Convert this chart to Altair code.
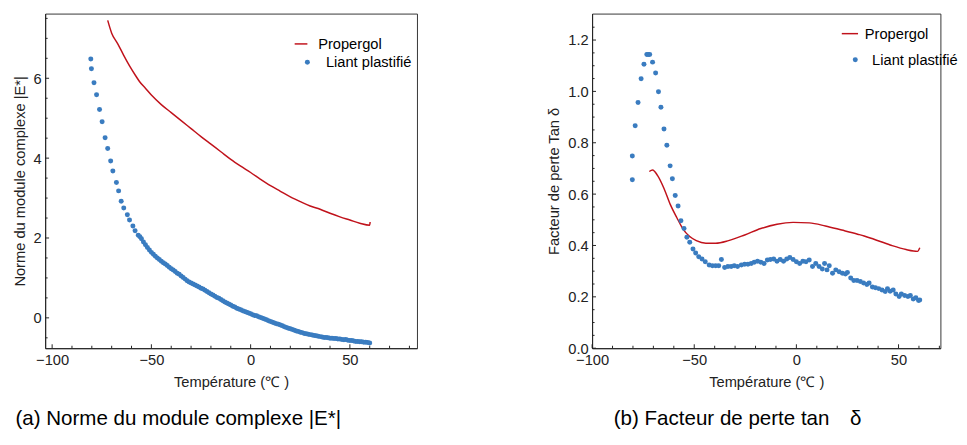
import altair as alt
import pandas as pd

RED = "#c0121b"
BLUE = "#3a7cc0"
AX = "#222222"
FONT = "Liberation Sans"

# ---------------- Panel (a): |E*| ----------------
PROP_T_A = [-72, -70, -67, -64, -61, -58, -56, -53, -50, -45, -40, -35, -30, -25, -20, -15,
            -10, -5, 0, 5, 10, 15, 20, 25, 30, 35, 40, 45, 50, 55, 60, 60.2]
PROP_E_A = [7.45, 7.13, 6.87, 6.58, 6.31, 6.07, 5.92, 5.75, 5.58, 5.34, 5.14, 4.94, 4.74, 4.54,
            4.35, 4.16, 3.97, 3.80, 3.64, 3.47, 3.31, 3.17, 3.03, 2.91, 2.80, 2.72, 2.62, 2.53,
            2.45, 2.37, 2.32, 2.40]

LIANT_T_A = [-80.5, -80.2, -78.9, -77.6, -76.1, -74.8, -73.3, -72.0, -70.5, -69.4, -67.6, -66.5,
             -65.2, -63.9, -62.1, -61.0, -59.3, -58.2, -56.6, -55.8,
             -55, -54, -53, -52, -51, -50, -49, -48, -47, -46, -45, -44, -43, -42, -41, -40,
             -39, -38, -37, -36, -35, -34, -33, -32, -31, -30, -29, -28, -27, -26, -25, -24,
             -23, -22, -21, -20, -19, -18, -17, -16, -15, -14, -13, -12, -11, -10, -9, -8,
             -7, -6, -5, -4, -3, -2, -1, 0, 1, 2, 3, 4, 5, 6, 7, 8, 9, 10, 11, 12, 13, 14,
             15, 16, 17, 18, 19, 20, 21, 22, 23, 24, 25, 26, 27, 28, 29, 30, 31, 32, 33, 34,
             35, 36, 37, 38, 39, 40, 41, 42, 43, 44, 45, 46, 47, 48, 49, 50, 51, 52, 53, 54,
             55, 56, 57, 58, 59, 60]
LIANT_E_A = [6.48, 6.24, 5.89, 5.59, 5.22, 4.91, 4.51, 4.24, 3.93, 3.68, 3.39, 3.18,
             2.92, 2.75, 2.58, 2.45, 2.30, 2.18, 2.07, 2.03,
             1.98, 1.90, 1.83, 1.76, 1.70, 1.64, 1.59, 1.54, 1.50, 1.46, 1.42, 1.38, 1.35, 1.31,
             1.27, 1.23, 1.20, 1.16, 1.12, 1.09, 1.05, 1.01, 0.97, 0.93, 0.90, 0.87, 0.85, 0.82,
             0.80, 0.77, 0.74, 0.72, 0.69, 0.66, 0.63, 0.60, 0.57, 0.54, 0.51, 0.49, 0.46, 0.43,
             0.40, 0.37, 0.35, 0.32, 0.29, 0.27, 0.24, 0.22, 0.20, 0.18, 0.16, 0.14, 0.12, 0.10,
             0.08, 0.06, 0.05, 0.03, 0.01, -0.01, -0.03, -0.05, -0.07, -0.09, -0.11, -0.13,
             -0.15, -0.16, -0.18, -0.20, -0.22, -0.24, -0.26, -0.27, -0.29, -0.31, -0.33, -0.34,
             -0.36, -0.37, -0.39, -0.40, -0.41, -0.42, -0.43, -0.44, -0.45, -0.46, -0.47, -0.48,
             -0.49, -0.49, -0.50, -0.51, -0.51, -0.52, -0.52, -0.53, -0.53, -0.54, -0.55, -0.54,
             -0.56, -0.57, -0.57, -0.58, -0.59, -0.59, -0.60, -0.60, -0.61, -0.61, -0.62, -0.63]

# ---------------- Panel (b): tan delta ----------------
PROP_T_B = [-72.0, -70.4, -68.0, -64.8, -61.7, -58.5, -55.4, -52.2, -49.0, -44.3, -39.5, -33.2,
            -25.3, -17.4, -9.5, -1.6, 6.3, 14.2, 22.2, 30.0, 33.2, 38.0, 45.9, 53.7, 59.3, 60.4]
PROP_D_B = [0.688, 0.694, 0.673, 0.622, 0.559, 0.508, 0.463, 0.435, 0.419, 0.409, 0.409, 0.419,
            0.441, 0.466, 0.483, 0.490, 0.488, 0.476, 0.460, 0.444, 0.437, 0.424, 0.402, 0.384,
            0.377, 0.391]

LIANT_T_B = [-80.3, -80.3, -78.9, -77.5, -76.0, -74.6, -73.2, -72.5, -71.8,
             -70.4, -68.9, -67.5, -66.3, -64.8, -63.4, -61.8, -60.7, -59.3, -57.9,
             -56.5, -55.0, -53.6, -52.2, -50.6, -49.3, -47.8, -46.2, -44.6, -42.7,
             -41.1, -39.5, -38.0, -36.7, -35.1, -33.5, -31.9, -30.4, -28.8, -26.9,
             -25.3, -23.7, -22.1, -20.6, -19.0, -17.4, -15.8, -14.2, -12.7, -11.1,
             -9.5, -7.9, -6.3, -4.7, -3.2, -1.6, 0.0, 1.6, 3.2, 4.7,
             6.3, 7.9, 9.5, 11.1, 12.7, 13.8, 15.0, 16.1, 17.7, 19.3,
             20.9, 22.5, 24.0, 25.0, 26.6, 28.1, 29.7, 31.3, 32.9, 34.5,
             35.6, 37.2, 38.7, 40.3, 41.9, 43.5, 44.6, 45.9, 47.4, 48.7,
             50.3, 51.4, 53.0, 54.6, 55.8, 57.2, 58.5, 59.8, 60.4]
LIANT_D_B = [0.656, 0.748, 0.866, 0.957, 1.049, 1.106, 1.144, 1.144, 1.144,
             1.114, 1.072, 0.999, 0.938, 0.854, 0.790, 0.710, 0.660, 0.595, 0.554,
             0.496, 0.466, 0.432, 0.413, 0.386, 0.371, 0.356, 0.347, 0.337, 0.324,
             0.321, 0.321, 0.321, 0.345, 0.314, 0.318, 0.318, 0.321, 0.318, 0.324,
             0.327, 0.327, 0.330, 0.335, 0.339, 0.335, 0.330, 0.343, 0.345, 0.347,
             0.339, 0.345, 0.339, 0.347, 0.353, 0.345, 0.337, 0.330, 0.339, 0.337,
             0.343, 0.318, 0.330, 0.318, 0.308, 0.330, 0.305, 0.321, 0.292, 0.305,
             0.298, 0.292, 0.289, 0.295, 0.273, 0.264, 0.264, 0.260, 0.254, 0.248,
             0.254, 0.238, 0.235, 0.232, 0.227, 0.221, 0.232, 0.222, 0.227, 0.211,
             0.201, 0.211, 0.205, 0.201, 0.205, 0.192, 0.196, 0.186, 0.188]

# Tick positions
X_MAJOR = [-100, -50, 0, 50]
X_MINOR_A = [-90, -80, -70, -60, -40, -30, -20, -10, 10, 20, 30, 40, 60, 70, 80]
X_MINOR_B = [-90, -80, -70, -60, -40, -30, -20, -10, 10, 20, 30, 40, 60, 70]
Y_MAJOR_A = [0, 2, 4, 6]
Y_MINOR_A = [-0.5, 0.5, 1, 1.5, 2.5, 3, 3.5, 4.5, 5, 5.5, 6.5, 7, 7.5]
Y_MAJOR_B = [0.0, 0.2, 0.4, 0.6, 0.8, 1.0, 1.2]
Y_MINOR_B = [0.05, 0.1, 0.15, 0.25, 0.3, 0.35, 0.45, 0.5, 0.55, 0.65, 0.7, 0.75,
             0.85, 0.9, 0.95, 1.05, 1.1, 1.15, 1.25]

SER_LINE = "Propergol"
SER_PTS = "Liant plastifié"
XTITLE = "Température (℃ )"

W_A, W_B, H = 380, 356, 342


def panel(pt, pv, lt, lv, xdom, ydom, width, ytitle, yfmt,
          xminor, ymajor, yminor, leg, caption, cap_dx):
    xs = alt.Scale(domain=xdom, nice=False, zero=False)
    ys = alt.Scale(domain=ydom, nice=False, zero=False)
    xax = alt.Axis(values=X_MAJOR, title=XTITLE, labelPadding=5, titlePadding=7,
                   labelFlush=False)
    yax = alt.Axis(values=ymajor, format=yfmt, title=ytitle, labelPadding=4, titlePadding=6,
                   labelFlush=False)
    dprop = pd.DataFrame({"T": pt, "v": pv, "s": SER_LINE})
    dli = pd.DataFrame({"T": lt, "v": lv, "s": SER_PTS})
    line = alt.Chart(dprop).mark_line(strokeWidth=1.5, interpolate="monotone").encode(
        x=alt.X("T:Q", scale=xs, axis=xax),
        y=alt.Y("v:Q", scale=ys, axis=yax),
        color=alt.Color("s:N", scale=alt.Scale(domain=[SER_LINE], range=[RED]),
                        legend=alt.Legend(orient="none", legendX=leg[0], legendY=leg[1],
                                          title=None, symbolType="stroke",
                                          symbolSize=leg[2], symbolStrokeWidth=1.5,
                                          labelOffset=leg[3], labelFontSize=15,
                                          labelFont=FONT, labelColor="#000", padding=0)),
    )
    pts = alt.Chart(dli).mark_point(filled=True, size=26, opacity=1).encode(
        x=alt.X("T:Q", scale=xs, axis=xax),
        y=alt.Y("v:Q", scale=ys, axis=yax),
        fill=alt.Fill("s:N", scale=alt.Scale(domain=[SER_PTS], range=[BLUE]),
                      legend=alt.Legend(orient="none", legendX=leg[4], legendY=leg[5],
                                        title=None, symbolType="circle", symbolSize=26,
                                        symbolFillColor=BLUE, symbolStrokeWidth=0,
                                        labelOffset=leg[6], labelFontSize=15,
                                        labelFont=FONT, labelColor="#000", padding=0)),
    )

    def xticks(vals, length):
        return alt.Chart(pd.DataFrame({"T": vals})).mark_rule(color=AX, strokeWidth=1).encode(
            x=alt.X("T:Q", scale=xs, axis=xax), y=alt.value(H), y2=alt.value(H - length))

    def yticks(vals, length):
        return alt.Chart(pd.DataFrame({"v": vals})).mark_rule(color=AX, strokeWidth=1).encode(
            y=alt.Y("v:Q", scale=ys, axis=yax), x=alt.value(0), x2=alt.value(length))

    return alt.layer(
        line, pts,
        xticks(X_MAJOR, 4), xticks(xminor, 2.5),
        yticks(ymajor, 4), yticks(yminor, 2.5),
    ).properties(
        width=width, height=H,
        title=alt.TitleParams(text=caption, orient="bottom", anchor="start", frame="bounds",
                              dx=cap_dx, offset=20, fontSize=21, font=FONT,
                              fontWeight="normal", color="#000"),
    )


left = panel(PROP_T_A, PROP_E_A, LIANT_T_A, LIANT_E_A, [-103.5, 83.8], [-0.76, 7.62], W_A,
             "Norme du module complexe |E*|", "d", X_MINOR_A, Y_MAJOR_A, Y_MINOR_A,
             (254, 23.5, 169, 10, 260.5, 42.2, 11.4),
             "(a) Norme du module complexe |E*|", 3)
right = panel(PROP_T_B, PROP_D_B, LIANT_T_B, LIANT_D_B, [-100, 70.5], [0, 1.303], W_B,
              "Facteur de perte Tan δ", ".1f", X_MINOR_B, Y_MAJOR_B, Y_MINOR_B,
              (254, 11, 276, 5.7, 261.5, 39.8, 9.7),
              "(b) Facteur de perte tan\u2003δ", 68)

chart = alt.hconcat(left, right, spacing=131).resolve_scale(
    color="independent", fill="independent"
).resolve_legend(
    color="independent", fill="independent"
).properties(
    padding={"left": 4, "top": 0, "right": 0, "bottom": 0}
).configure_view(
    stroke="#333", strokeWidth=1
).configure_axis(
    labelFont=FONT, labelFontSize=15, labelColor=AX,
    titleFont=FONT, titleFontSize=15, titleFontWeight="normal", titleColor=AX,
    domainColor=AX, domainWidth=1, ticks=False, tickSize=0, grid=False,
)

chart.save("out.html", embed_options={"renderer": "svg", "actions": False})
